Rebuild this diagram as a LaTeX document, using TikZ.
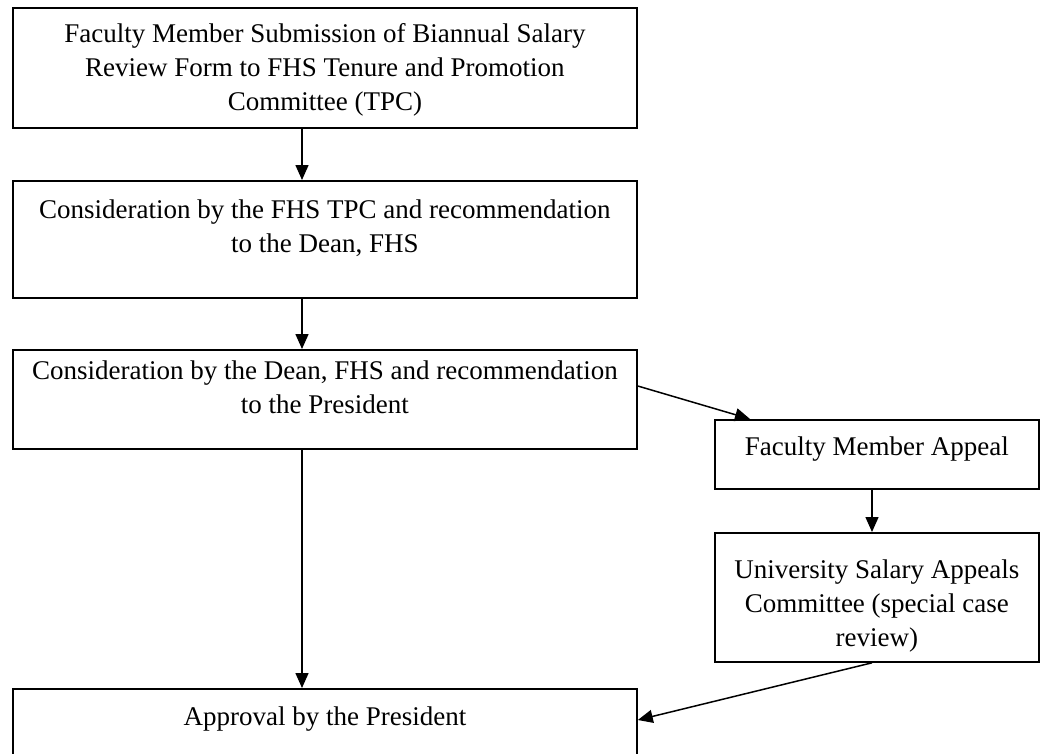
\documentclass[tikz,border=0pt]{standalone}
\usepackage{fontspec}
\setmainfont{Liberation Serif}
\usetikzlibrary{arrows.meta,positioning,calc}

\begin{document}
\begin{tikzpicture}[x=1pt, y=-1pt,
    stage/.style={draw, line width=1.8pt, anchor=north west, inner sep=0pt},
    words/.style={anchor=north, align=center, inner sep=0pt,
      font=\fontsize{27}{34}\selectfont},
    flow/.style={-{Triangle[length=15pt, width=13pt]}, line width=1.5pt}]
    \useasboundingbox (0,0) rectangle (1041,753);
    \clip (0,0) rectangle (1041,753);
    % main column
    \node[stage, minimum width=624pt, minimum height=120pt] (submit) at (12,7) {};
    \node[stage, minimum width=624pt, minimum height=117pt] (tpc) at (12,180) {};
    \node[stage, minimum width=624pt, minimum height=99pt] (dean) at (12,349) {};
    \node[stage, minimum width=624pt, minimum height=85pt] (approve) at (12,688) {};
    % appeal column
    \node[stage, minimum width=324pt, minimum height=69pt] (appeal) at (714,419) {};
    \node[stage, minimum width=324pt, minimum height=129pt] (review) at (714,532) {};
    % texts
    \node[words, below=16pt of submit.north] (submit-t)
      {Faculty Member Submission of Biannual Salary\\Review Form to FHS Tenure and Promotion\\Committee (TPC)};
    \node[words, below=20pt of tpc.north] (tpc-t)
      {Consideration by the FHS TPC and recommendation\\to the Dean, FHS};
    \node[words, below=12pt of dean.north] (dean-t)
      {Consideration by the Dean, FHS and recommendation\\to the President};
    \node[words, below=18pt of appeal.north] (appeal-t) {Faculty Member Appeal};
    \node[words, below=28pt of review.north] (review-t)
      {University Salary Appeals\\Committee (special case\\review)};
    \node[words, below=19pt of approve.north] (approve-t) {Approval by the President};
    \path[flow]
      ([xshift=290pt]submit.south west) edge ([xshift=290pt]tpc.north west)
      ([xshift=290pt]tpc.south west) edge ([xshift=290pt]dean.north west)
      ([xshift=290pt]dean.south west) edge ([xshift=290pt]approve.north west)
      ([yshift=-37pt]dean.north east) edge ([xshift=36pt]appeal.north west)
      ([xshift=158pt]appeal.south west) edge ([xshift=158pt]review.north west)
      ([xshift=158pt]review.south west) edge ([yshift=-32pt]approve.north east);
\end{tikzpicture}
\end{document}
